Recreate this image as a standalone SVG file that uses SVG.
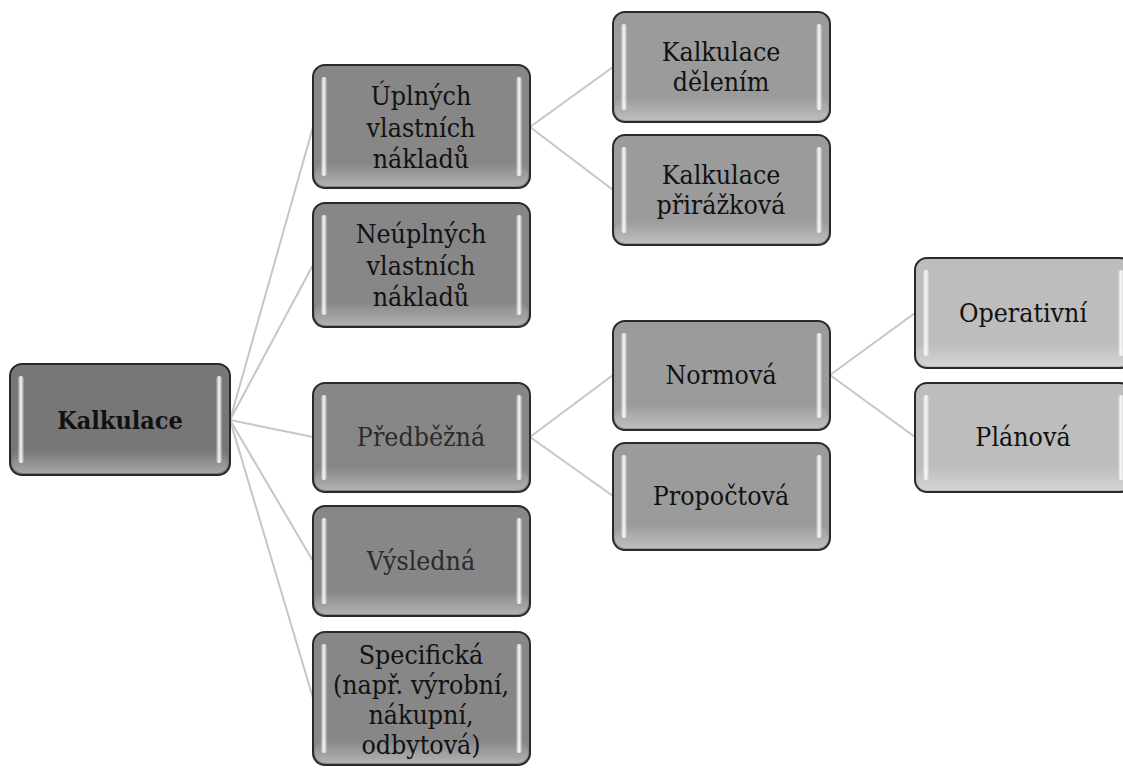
<svg xmlns="http://www.w3.org/2000/svg" width="1123" height="771" viewBox="0 0 1123 771">
<style>
.box{stroke:#2a2a2a;stroke-width:2}
.l0{fill:#777777}
.l1{fill:#878787}
.l2{fill:#9b9b9b}
.l3{fill:#bdbdbd}
.hl{fill:url(#hlg)}
.hr{fill:url(#hrg)}
.bot{fill:url(#bg)}
.t{font-family:"DejaVu Serif Condensed","DejaVu Serif","Liberation Serif",serif;font-stretch:condensed;font-size:26.5px;fill:#111;text-anchor:middle}
.dim{fill:#2b2b2b}
.b{font-weight:bold;font-size:25px}
.c{stroke:#c6c6c6;stroke-width:2;fill:none}
</style>
<defs>
<linearGradient id="hlg" x1="0" y1="0" x2="1" y2="0">
<stop offset="0" stop-color="#fff" stop-opacity="0.2"/>
<stop offset="0.5" stop-color="#fff" stop-opacity="0.95"/>
<stop offset="1" stop-color="#fff" stop-opacity="0.1"/>
</linearGradient>
<linearGradient id="hrg" x1="0" y1="0" x2="1" y2="0">
<stop offset="0" stop-color="#fff" stop-opacity="0.1"/>
<stop offset="0.5" stop-color="#fff" stop-opacity="0.95"/>
<stop offset="1" stop-color="#fff" stop-opacity="0.2"/>
</linearGradient>
<linearGradient id="bg" x1="0" y1="0" x2="0" y2="1">
<stop offset="0" stop-color="#fff" stop-opacity="0"/>
<stop offset="1" stop-color="#fff" stop-opacity="0.35"/>
</linearGradient>
</defs>
<rect width="1123" height="771" fill="#fff"/>
<g id="connectors">
<line class="c" x1="230" y1="420" x2="313" y2="127"/>
<line class="c" x1="230" y1="420" x2="313" y2="265"/>
<line class="c" x1="230" y1="420" x2="313" y2="437"/>
<line class="c" x1="230" y1="420" x2="313" y2="561"/>
<line class="c" x1="230" y1="420" x2="313" y2="698"/>
<line class="c" x1="530" y1="127" x2="613" y2="67"/>
<line class="c" x1="530" y1="127" x2="613" y2="190"/>
<line class="c" x1="530" y1="437" x2="613" y2="375"/>
<line class="c" x1="530" y1="437" x2="613" y2="496"/>
<line class="c" x1="830" y1="375" x2="915" y2="313"/>
<line class="c" x1="830" y1="375" x2="915" y2="437"/>
</g>
<g id="n0">
<rect class="box l0" x="10" y="364" width="220" height="111" rx="12"/>
<rect class="bot" x="12" y="450" width="216" height="23" rx="10"/>
<rect class="hl" x="18" y="376" width="6" height="87" rx="3"/>
<rect class="hr" x="216" y="376" width="6" height="87" rx="3"/>
<text class="t b" x="120" y="429">Kalkulace</text>
</g>
<g id="n1">
<rect class="box l1" x="313" y="65" width="217" height="123" rx="12"/>
<rect class="bot" x="315" y="163" width="213" height="23" rx="10"/>
<rect class="hl" x="321" y="77" width="6" height="99" rx="3"/>
<rect class="hr" x="516" y="77" width="6" height="99" rx="3"/>
<text class="t" x="421" y="105">Úplných</text>
<text class="t" x="421" y="137">vlastních</text>
<text class="t" x="421" y="168">nákladů</text>
</g>
<g id="n2">
<rect class="box l1" x="313" y="203" width="217" height="124" rx="12"/>
<rect class="bot" x="315" y="302" width="213" height="23" rx="10"/>
<rect class="hl" x="321" y="215" width="6" height="100" rx="3"/>
<rect class="hr" x="516" y="215" width="6" height="100" rx="3"/>
<text class="t" x="421" y="243">Neúplných</text>
<text class="t" x="421" y="275">vlastních</text>
<text class="t" x="421" y="306">nákladů</text>
</g>
<g id="n3">
<rect class="box l1" x="313" y="383" width="217" height="109" rx="12"/>
<rect class="bot" x="315" y="467" width="213" height="23" rx="10"/>
<rect class="hl" x="321" y="395" width="6" height="85" rx="3"/>
<rect class="hr" x="516" y="395" width="6" height="85" rx="3"/>
<text class="t dim" x="421" y="446">Předběžná</text>
</g>
<g id="n4">
<rect class="box l1" x="313" y="506" width="217" height="110" rx="12"/>
<rect class="bot" x="315" y="591" width="213" height="23" rx="10"/>
<rect class="hl" x="321" y="518" width="6" height="86" rx="3"/>
<rect class="hr" x="516" y="518" width="6" height="86" rx="3"/>
<text class="t dim" x="421" y="570">Výsledná</text>
</g>
<g id="n5">
<rect class="box l1" x="313" y="632" width="217" height="133" rx="12"/>
<rect class="bot" x="315" y="740" width="213" height="23" rx="10"/>
<rect class="hl" x="321" y="644" width="6" height="109" rx="3"/>
<rect class="hr" x="516" y="644" width="6" height="109" rx="3"/>
<text class="t" x="421" y="664">Specifická</text>
<text class="t" x="421" y="694">(např. výrobní,</text>
<text class="t" x="421" y="724">nákupní,</text>
<text class="t" x="421" y="754">odbytová)</text>
</g>
<g id="n6">
<rect class="box l2" x="613" y="12" width="217" height="110" rx="12"/>
<rect class="bot" x="615" y="97" width="213" height="23" rx="10"/>
<rect class="hl" x="621" y="24" width="6" height="86" rx="3"/>
<rect class="hr" x="816" y="24" width="6" height="86" rx="3"/>
<text class="t" x="721" y="61">Kalkulace</text>
<text class="t" x="721" y="91">dělením</text>
</g>
<g id="n7">
<rect class="box l2" x="613" y="135" width="217" height="110" rx="12"/>
<rect class="bot" x="615" y="220" width="213" height="23" rx="10"/>
<rect class="hl" x="621" y="147" width="6" height="86" rx="3"/>
<rect class="hr" x="816" y="147" width="6" height="86" rx="3"/>
<text class="t" x="721" y="184">Kalkulace</text>
<text class="t" x="721" y="214">přirážková</text>
</g>
<g id="n8">
<rect class="box l2" x="613" y="321" width="217" height="109" rx="12"/>
<rect class="bot" x="615" y="405" width="213" height="23" rx="10"/>
<rect class="hl" x="621" y="333" width="6" height="85" rx="3"/>
<rect class="hr" x="816" y="333" width="6" height="85" rx="3"/>
<text class="t" x="721" y="384">Normová</text>
</g>
<g id="n9">
<rect class="box l2" x="613" y="443" width="217" height="107" rx="12"/>
<rect class="bot" x="615" y="525" width="213" height="23" rx="10"/>
<rect class="hl" x="621" y="455" width="6" height="83" rx="3"/>
<rect class="hr" x="816" y="455" width="6" height="83" rx="3"/>
<text class="t" x="721" y="505">Propočtová</text>
</g>
<g id="n10">
<rect class="box l3" x="915" y="258" width="217" height="110" rx="12"/>
<rect class="bot" x="917" y="343" width="213" height="23" rx="10"/>
<rect class="hl" x="923" y="270" width="6" height="86" rx="3"/>
<rect class="hr" x="1118" y="270" width="6" height="86" rx="3"/>
<text class="t" x="1023" y="322">Operativní</text>
</g>
<g id="n11">
<rect class="box l3" x="915" y="383" width="217" height="109" rx="12"/>
<rect class="bot" x="917" y="467" width="213" height="23" rx="10"/>
<rect class="hl" x="923" y="395" width="6" height="85" rx="3"/>
<rect class="hr" x="1118" y="395" width="6" height="85" rx="3"/>
<text class="t" x="1023" y="446">Plánová</text>
</g>
</svg>
